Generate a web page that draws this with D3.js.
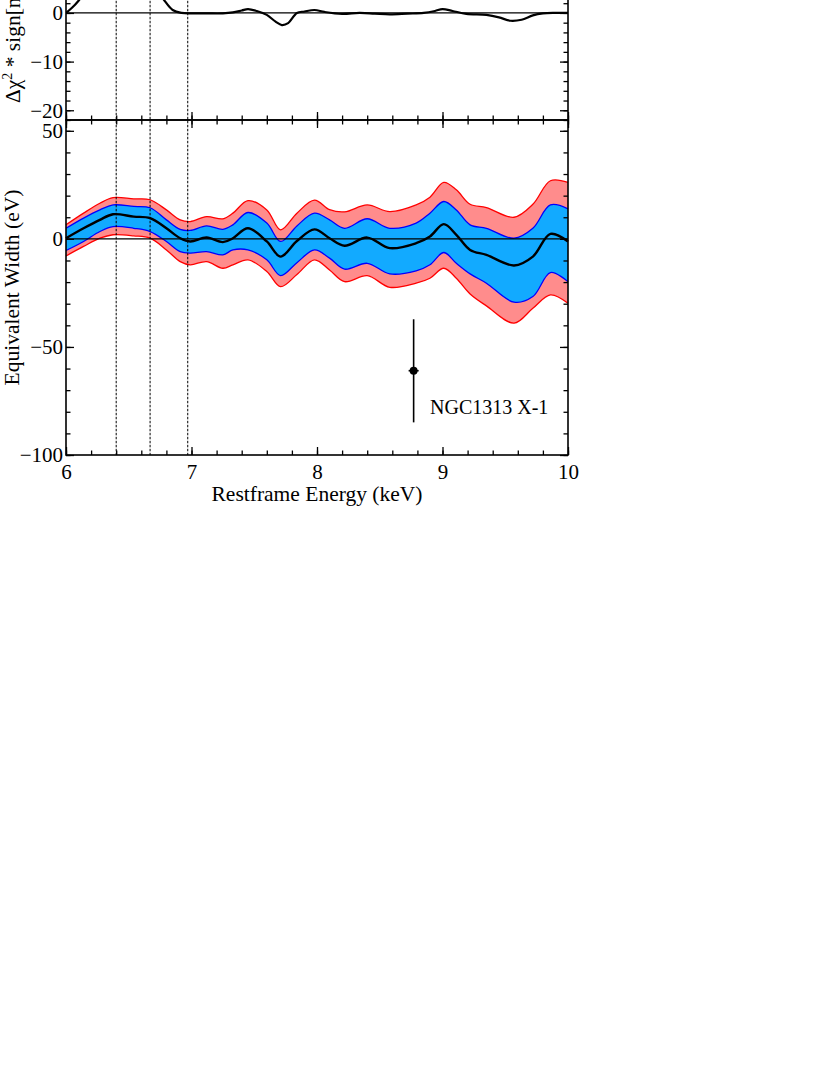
<!DOCTYPE html>
<html><head><meta charset="utf-8">
<script src="https://cdn.jsdelivr.net/npm/d3@7"></script>
<style>body{margin:0;background:#fff}svg{display:block}</style></head>
<body><svg id="c" width="830" height="1075"></svg>
<script>
// ---- data ----
const topEnergy = [6.0,6.05,6.1,6.2,6.3,6.4,6.5,6.6,6.7,6.78,6.85,6.92,7.0,7.12,7.25,7.33,7.4,7.45,7.52,7.6,7.67,7.72,7.77,7.84,7.9,7.98,8.06,8.2,8.34,8.46,8.58,8.72,8.85,8.94,9.0,9.08,9.19,9.35,9.45,9.54,9.63,9.72,9.8,9.9,10.0];
const topDchi   = [0,1.1,2.5,6,9.5,11.5,12,10,5.8,2.7,0.6,0,-0.1,-0.1,-0.1,0.1,0.5,0.8,0.4,-0.4,-1.8,-2.5,-2.1,0,0.3,0.6,0.2,-0.2,0,-0.15,-0.3,-0.15,0,0.4,0.8,0.4,-0.2,-0.4,-0.9,-1.6,-1.4,-0.5,-0.1,0,0];

const ewEnergy = [6.0,6.14,6.27,6.375,6.54,6.67,6.80,6.91,6.99,7.12,7.25,7.33,7.45,7.60,7.71,7.84,7.98,8.10,8.22,8.40,8.58,8.79,8.90,9.01,9.11,9.22,9.35,9.57,9.72,9.86,10.0];
const ewMean   = [0.3,4.9,8.8,11.4,10.3,9.6,4.9,0.3,-1.2,0.6,-1.5,0.3,4.9,-1.2,-8.2,-1.0,4.4,0.3,-3.2,0.6,-4.3,-2.0,1.1,6.8,1.9,-5.1,-7.4,-12.3,-8.2,2.3,-1.2];
const ewBlueHi = [4.9,9.6,13.4,15.7,15.0,14.4,8.8,4.4,3.9,6.0,4.4,6.5,12.2,7.3,-1.2,6.0,11.9,8.8,4.9,9.3,4.9,7.3,11.9,17.3,13.4,6.5,4.9,0.3,4.9,15.7,13.9];
const ewBlueLo = [-5.4,-1.2,3.4,5.7,4.9,3.4,-1.2,-5.9,-6.6,-5.9,-7.4,-5.1,-5.1,-9.7,-17.0,-11.0,-5.1,-8.9,-14.0,-11.3,-16.2,-14.8,-12.0,-6.3,-11.3,-16.2,-20.5,-29.3,-26.7,-15.6,-19.8];
const ewRedHi  = [6.5,11.9,16.5,19.1,18.5,18.1,13.4,8.8,8.0,10.3,9.3,11.9,17.7,13.4,4.2,11.9,17.9,13.5,12.5,15.7,12.6,15.7,19.3,26.1,22.7,16.0,14.5,10.0,16.0,26.9,26.1];
const ewRedLo  = [-7.9,-3.5,0.3,1.9,1.4,0.3,-5.1,-10.5,-12.0,-10.5,-13.6,-12.0,-9.7,-15.1,-22.1,-16.5,-9.7,-14.4,-19.8,-17.0,-22.4,-20.5,-18.2,-13.6,-18.2,-25.5,-31.0,-39.0,-32.1,-25.9,-29.8];

const lineEnergies = [6.4,6.67,6.97];
const xTicks = [6,7,8,9,10];
const ewTicks = [-100,-50,0,50];
const dchiTicks = [-20,-10,0];
const pointEnergy = [8.77], pointEW = [-61], pointEWlo = [-84.9], pointEWhi = [-37.2], pointEerr = [0.04];
const pointLabel = "NGC1313 X-1";

// ---- layout ----
const svg = d3.select("#c");
const FONT = "Liberation Serif, Times New Roman, serif";
const TICKFS = 21, TITLEFS = 21.5;
const x = d3.scaleLinear().domain([6,10]).range([66,568]);
const yB = d3.scaleLinear().domain([-100,55]).range([455,120]);
const yT = d3.scaleLinear().domain([-22,14]).range([120,-55.2]);
const xMinor = d3.range(6,10.001,0.2);
const ewMinor = d3.range(-100,55,10);
const dchiMinor = d3.range(-22,14.01,2);

function styleAxis(g){
  g.select(".domain").remove();
  g.attr("font-family",FONT).attr("font-size",TICKFS);
  g.selectAll("line").attr("stroke","#000").attr("stroke-width",1.3);
  g.selectAll("text").attr("fill","#000");
}
function frame(top, bottom){
  svg.append("g").attr("transform",`translate(0,${bottom})`).call(d3.axisBottom(x).tickValues(xTicks).tickSize(-8).tickFormat(()=>"")).call(styleAxis);
  svg.append("g").attr("transform",`translate(0,${bottom})`).call(d3.axisBottom(x).tickValues(xMinor).tickSize(-4.5).tickFormat(()=>"")).call(styleAxis);
  svg.append("g").attr("transform",`translate(0,${top})`).call(d3.axisTop(x).tickValues(xTicks).tickSize(-8).tickFormat(()=>"")).call(styleAxis);
  svg.append("g").attr("transform",`translate(0,${top})`).call(d3.axisTop(x).tickValues(xMinor).tickSize(-4.5).tickFormat(()=>"")).call(styleAxis);
}

// ---- top panel ----
svg.append("clipPath").attr("id","clipT").append("rect")
  .attr("x",66).attr("y",yT(14)).attr("width",502).attr("height",yT(-22)-yT(14));
frame(yT(14), yT(-22));
svg.append("g").attr("transform","translate(66,0)").call(d3.axisLeft(yT).tickValues(dchiTicks).tickSize(-8).tickPadding(3)).call(styleAxis);
svg.append("g").attr("transform","translate(66,0)").call(d3.axisLeft(yT).tickValues(dchiMinor).tickSize(-4.5).tickFormat(()=>"")).call(styleAxis);
svg.append("g").attr("transform","translate(568,0)").call(d3.axisRight(yT).tickValues(dchiTicks).tickSize(-8).tickFormat(()=>"")).call(styleAxis);
svg.append("g").attr("transform","translate(568,0)").call(d3.axisRight(yT).tickValues(dchiMinor).tickSize(-4.5).tickFormat(()=>"")).call(styleAxis);

const gT = svg.append("g").attr("clip-path","url(#clipT)");
gT.append("line").attr("x1",x(6)).attr("x2",x(10)).attr("y1",yT(0)).attr("y2",yT(0)).attr("stroke","#000").attr("stroke-width",1.3);
gT.append("path").datum(topEnergy.map((e,i)=>[e,topDchi[i]]))
  .attr("d",d3.line().x(d=>x(d[0])).y(d=>yT(d[1])).curve(d3.curveCatmullRom))
  .attr("fill","none").attr("stroke","#000").attr("stroke-width",2.2);

// ---- bottom panel ----
const gB = svg.append("g");
const rows = ewEnergy.map((e,i)=>({e, m:ewMean[i], bh:ewBlueHi[i], bl:ewBlueLo[i], rh:ewRedHi[i], rl:ewRedLo[i]}));
const cr = d3.curveCatmullRom;
gB.append("path").datum(rows).attr("d",d3.area().x(d=>x(d.e)).y0(d=>yB(d.rl)).y1(d=>yB(d.rh)).curve(cr)).attr("fill","#ff8c8c");
gB.append("path").datum(rows).attr("d",d3.area().x(d=>x(d.e)).y0(d=>yB(d.bl)).y1(d=>yB(d.bh)).curve(cr)).attr("fill","#12aaff");
[["rh","#ff0000"],["rl","#ff0000"],["bh","#0000ff"],["bl","#0000ff"]].forEach(([k,c])=>{
  gB.append("path").datum(rows).attr("d",d3.line().x(d=>x(d.e)).y(d=>yB(d[k])).curve(cr))
    .attr("fill","none").attr("stroke",c).attr("stroke-width",1.3);
});
gB.append("line").attr("x1",x(6)).attr("x2",x(10)).attr("y1",yB(0)).attr("y2",yB(0)).attr("stroke","#000").attr("stroke-width",1.3);
gB.append("path").datum(rows).attr("d",d3.line().x(d=>x(d.e)).y(d=>yB(d.m)).curve(cr))
  .attr("fill","none").attr("stroke","#000").attr("stroke-width",2.4);

frame(120, 455);
svg.append("g").attr("transform","translate(0,455)").call(d3.axisBottom(x).tickValues(xTicks).tickSize(0).tickPadding(9).tickFormat(d3.format("d"))).call(styleAxis);
svg.append("g").attr("transform","translate(66,0)").call(d3.axisLeft(yB).tickValues(ewTicks).tickSize(-8).tickPadding(3)).call(styleAxis);
svg.append("g").attr("transform","translate(66,0)").call(d3.axisLeft(yB).tickValues(ewMinor).tickSize(-4.5).tickFormat(()=>"")).call(styleAxis);
svg.append("g").attr("transform","translate(568,0)").call(d3.axisRight(yB).tickValues(ewTicks).tickSize(-8).tickFormat(()=>"")).call(styleAxis);
svg.append("g").attr("transform","translate(568,0)").call(d3.axisRight(yB).tickValues(ewMinor).tickSize(-4.5).tickFormat(()=>"")).call(styleAxis);

// dotted lines
svg.selectAll(".fe").data(lineEnergies).enter().append("line")
  .attr("x1",d=>x(d)).attr("x2",d=>x(d)).attr("y1",yT(14)).attr("y2",yB(-100))
  .attr("stroke","#000").attr("stroke-width",1).attr("stroke-dasharray","2.5,1.5");

// frames
[[yT(14),yT(-22)],[120,455]].forEach(([t,b])=>{
  svg.append("rect").attr("x",66).attr("y",t).attr("width",502).attr("height",b-t)
    .attr("fill","none").attr("stroke","#000").attr("stroke-width",1.6);
});

// data point
const pg = svg.append("g");
pointEnergy.forEach((e,i)=>{
  pg.append("line").attr("x1",x(e)).attr("x2",x(e)).attr("y1",yB(pointEWlo[i])).attr("y2",yB(pointEWhi[i])).attr("stroke","#000").attr("stroke-width",1.6);
  pg.append("line").attr("x1",x(e-pointEerr[i])).attr("x2",x(e+pointEerr[i])).attr("y1",yB(pointEW[i])).attr("y2",yB(pointEW[i])).attr("stroke","#000").attr("stroke-width",1.6);
  pg.append("circle").attr("cx",x(e)).attr("cy",yB(pointEW[i])).attr("r",4).attr("fill","#000");
});
svg.append("text").attr("x",430).attr("y",414).attr("font-family",FONT).attr("font-size",20).text(pointLabel);

// axis titles
svg.append("text").attr("x",317).attr("y",501).attr("text-anchor","middle").attr("font-family",FONT).attr("font-size",TITLEFS).text("Restframe Energy (keV)");
svg.append("text").attr("transform","translate(19,287.5) rotate(-90)").attr("text-anchor","middle").attr("font-family",FONT).attr("font-size",TITLEFS).text("Equivalent Width (eV)");
const tl = svg.append("text").attr("transform","translate(20,103) rotate(-90)").attr("text-anchor","start").attr("font-family",FONT).attr("font-size",TITLEFS);
tl.append("tspan").text("Δχ");
tl.append("tspan").attr("dy",-8).attr("font-size",14).text("2");
tl.append("tspan").attr("dy",8).text(" * sign[norm]");
</script></body></html>
